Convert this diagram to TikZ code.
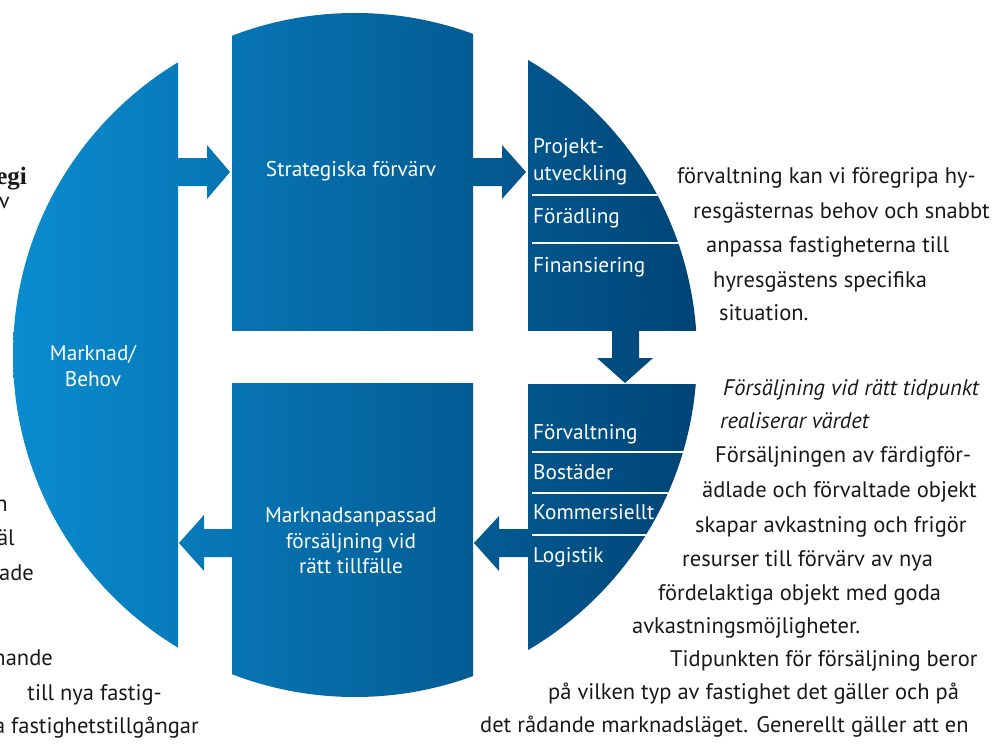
\documentclass[tikz,border=0pt]{standalone}
\usepackage{fontspec}
\setmainfont{PT Sans}
\newfontfamily\headfont{Liberation Serif}
\definecolor{cL}{RGB}{10,140,208}
\definecolor{cM}{RGB}{0,110,178}
\definecolor{cR}{RGB}{0,68,118}
\definecolor{txt}{RGB}{25,25,25}
\newcommand\bpiece[1]{\begin{scope}\clip #1;\shade[left color=cL,middle color=cM,right color=cR] (13,0) rectangle (697,744);\end{scope}}
\tikzset{
  body/.style={text=txt,font=\fontsize{22.5}{26}\selectfont,inner sep=0pt},
  bodyit/.style={body,font=\fontsize{22.5}{26}\selectfont\itshape},
  lbl/.style={text=white,font=\fontsize{21.3}{25.5}\selectfont,inner sep=0pt},
  sepline/.style={white,line width=2pt}
}
\begin{document}
\begin{tikzpicture}[x=1pt,y=-1pt]
\useasboundingbox (0,0) rectangle (1005,744);
\begin{scope}
  \clip (355,355) circle[radius=342];
  \bpiece{(0,0) rectangle (178,744)}
  \bpiece{(232,0) rectangle (473,330)}
  \bpiece{(232,383) rectangle (473,744)}
  \bpiece{(528,0) rectangle (720,330)}
  \bpiece{(528,384) rectangle (720,744)}
  \bpiece{(176,158) -- (207,158) -- (207,145) -- (230,172) -- (207,199) -- (207,186) -- (176,186) -- cycle}
  \bpiece{(471,158) -- (502,158) -- (502,145) -- (526,172) -- (502,199) -- (502,186) -- (471,186) -- cycle}
  \bpiece{(612,328) -- (639,328) -- (639,358) -- (653,358) -- (625,383) -- (597,358) -- (612,358) -- cycle}
  \bpiece{(530,529) -- (499,529) -- (499,516) -- (474,543) -- (499,571) -- (499,557) -- (530,557) -- cycle}
  \bpiece{(234,529) -- (204,529) -- (204,515) -- (179,543) -- (204,571) -- (204,557) -- (234,557) -- cycle}
  \draw[sepline] (532,195) -- (720,195);
  \draw[sepline] (532,243) -- (720,243);
  \draw[sepline] (532,452) -- (720,452);
  \draw[sepline] (532,493) -- (720,493);
  \draw[sepline] (532,535) -- (720,535);
\end{scope}
% labels in the circle
\node[lbl,align=center] (behov) at (93,366) {Marknad/\\Behov};
\node[lbl,anchor=base] (strat) at (351,176) {Strategiska förvärv};
\node[lbl,align=center] (salj) at (351,541) {Marknadsanpassad\\försäljning vid\\rätt tillfälle};
\node[lbl,anchor=base west] (p1) at (533,153) {Projekt-};
\node[lbl,anchor=base west] (p2) at (533,180) {utveckling};
\node[lbl,anchor=base west] (p3) at (533,223) {Förädling};
\node[lbl,anchor=base west] (p4) at (533,272) {Finansiering};
\node[lbl,anchor=base west] (q1) at (533,439) {Förvaltning};
\node[lbl,anchor=base west] (q2) at (533,479) {Bostäder};
\node[lbl,anchor=base west] (q3) at (533,519) {Kommersiellt};
\node[lbl,anchor=base west] (q4) at (533,562) {Logistik};
% right body text
\node[body,anchor=base west] (r1) at (677,183) {förvaltning kan vi föregripa hy-};
\node[body,anchor=base west] (r2) at (693,218) {resgästernas behov och snabbt};
\node[body,anchor=base west] (r3) at (706,252) {anpassa fastigheterna till};
\node[body,anchor=base west] (r4) at (713,287) {hyresgästens specifika};
\node[body,anchor=base west] (r5) at (719,320) {situation.};
\node[bodyit,anchor=base west] (s1) at (723,395) {Försäljning vid rätt tidpunkt};
\node[bodyit,anchor=base west] (s2) at (720,428) {realiserar värdet};
\node[body,anchor=base west] (s3) at (715,462) {Försäljningen av färdigför-};
\node[body,anchor=base west] (s4) at (702,497) {ädlade och förvaltade objekt};
\node[body,anchor=base west] (s5) at (695,532) {skapar avkastning och frigör};
\node[body,anchor=base west] (s6) at (682,566) {resurser till förvärv av nya};
\node[body,anchor=base west] (s7) at (658,600) {fördelaktiga objekt med goda};
\node[body,anchor=base west] (s8) at (632,633) {avkastningsmöjligheter.};
\node[body,anchor=base west] (s9) at (670,666) {Tidpunkten för försäljning beror};
\node[body,anchor=base west] (s10) at (548,699) {på vilken typ av fastighet det gäller och på};
\node[body,anchor=base west] (s11) at (480,732) {det rådande marknadsläget. Generellt gäller att en};
% left cropped text
\node[body,anchor=base east,font=\headfont\bfseries\fontsize{25}{26}\selectfont] (l1) at (27,184) {egi};
\node[body,anchor=base east] (l2) at (10,208) {v};
\node[body,anchor=base east] (l3) at (8,511) {n};
\node[body,anchor=base east] (l4) at (15,545) {äl};
\node[body,anchor=base east] (l5) at (34,580) {ade};
\node[body,anchor=base east] (l6) at (53,665) {nande};
\node[body,anchor=base east] (l7) at (162,700) {till nya fastig-};
\node[body,anchor=base east] (l8) at (199,733) {a fastighetstillgångar};
\end{tikzpicture}
\end{document}
